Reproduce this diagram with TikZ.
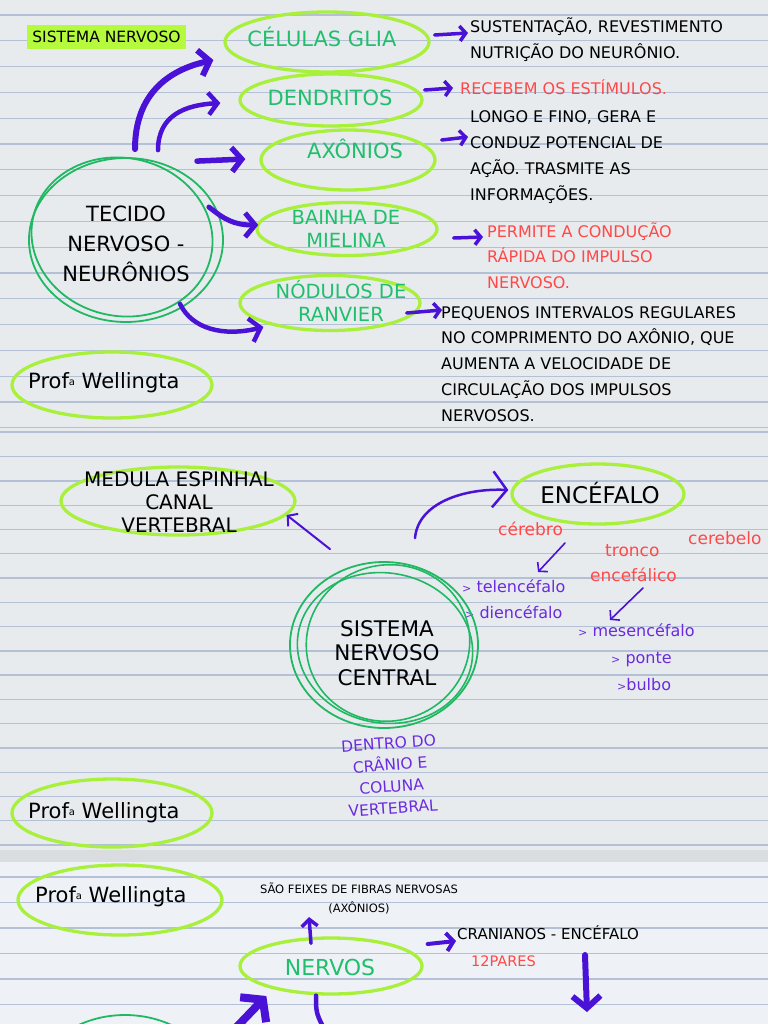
\documentclass[tikz,border=0pt]{standalone}
\usepackage{fontspec}
\setmainfont{DejaVu Sans}
\usetikzlibrary{shapes.geometric,arrows.meta}
\definecolor{limec}{HTML}{A8F03C}
\definecolor{greent}{HTML}{1FBF6C}
\definecolor{greenc}{HTML}{20B863}
\definecolor{purp}{HTML}{4A12D6}
\definecolor{purpt}{HTML}{6A2BE0}
\definecolor{redt}{HTML}{FF4848}
\definecolor{paper}{HTML}{E8EBEE}
\definecolor{paperb}{HTML}{EEF2F6}
\definecolor{band}{HTML}{DADDE0}
\definecolor{rulec}{HTML}{B4C0D5}
\definecolor{hl}{HTML}{B5FA3C}
\newcommand\mylinesl[1]{\begin{tabular}[t]{@{}l@{}}#1\end{tabular}}
\newcommand\mylinesc[1]{\begin{tabular}[t]{@{}c@{}}#1\end{tabular}}
\newcommand\fs[2]{\fontsize{#1}{#2}\selectfont}
\newcommand\profa{Prof\raisebox{3pt}{\fs{10}{10}a}\ Wellingta}
\begin{document}
\begin{tikzpicture}[x=1pt,y=-1pt,
  lel/.style={ellipse, draw=limec, line width=3.3pt, inner sep=0pt},
  gel/.style={ellipse, draw=greenc, line width=1.8pt, inner sep=0pt},
  gt/.style={text=greent, font=\fs{21}{21}, anchor=base, inner sep=0pt},
  gt2/.style={text=greent, font=\fs{19.5}{23}, anchor=base, inner sep=0pt},
  bt/.style={text=black, anchor=base, inner sep=0pt},
  rt/.style={text=black, anchor=base west, inner sep=0pt, font=\fs{16}{25.8}},
  rl/.style={text=redt, anchor=base west, inner sep=0pt, font=\fs{17}{17}},
  pl/.style={text=purpt, anchor=base west, inner sep=0pt, font=\fs{16}{16}},
  prof/.style={text=black, anchor=base west, inner sep=0pt, font=\fs{21}{21}},
  pa/.style={draw=purp, line cap=round, line join=round}
]
\useasboundingbox (0,0) rectangle (768,1024);
\clip (0,0) rectangle (768,1024);
% paper
\fill[paper] (0,0) rectangle (768,850);
\fill[band] (0,850) rectangle (768,862);
\fill[paperb] (0,862) rectangle (768,1024);
\foreach \k in {0,...,16} \draw[rulec, line width=1.3pt] (0,{15+25.8*\k}) -- ++(768,0);
\draw[rulec, line width=1.3pt] (0,432) -- ++(768,0);
\foreach \k in {0,...,16} \draw[rulec, line width=1.3pt] (0,{456.7+24.27*\k}) -- ++(768,0);
\foreach \k in {0,...,5} \draw[rulec, line width=1.3pt] (0,{877+25.5*\k}) -- ++(768,0);

% ---------- top panel ----------
\node[fill=hl, minimum width=159pt, minimum height=24pt, inner sep=0pt, font=\fs{15.5}{15.5}] (sn) at (106.5,37) {SISTEMA NERVOSO};

\node[lel, minimum width=204pt, minimum height=60pt] (glia) at (327,42) {};
\node[lel, minimum width=182pt, minimum height=52pt] (dend) at (331,100) {};
\node[lel, minimum width=174pt, minimum height=60pt] (axo) at (348,160) {};
\node[lel, minimum width=180pt, minimum height=53pt] (bai) at (347,229) {};
\node[lel, minimum width=180pt, minimum height=55pt] (rnv) at (330,303) {};
\node[lel, minimum width=200pt, minimum height=66pt] (prof1e) at (112,385) {};

\node[gt] (gliat) at (322,47) {CÉLULAS GLIA};
\node[gt] (dendt) at (330,106) {DENDRITOS};
\node[gt] (axot) at (355,159) {AXÔNIOS};
\node[gt2] (bait) at (346,225) {\mylinesc{BAINHA DE\\MIELINA}};
\node[gt2] (rnvt) at (341,298) {\mylinesc{NÓDULOS DE\\RANVIER}};

\node[gel, minimum width=194pt, minimum height=164pt] (tec) at (126,240) {};
\draw[greenc, line width=1.8pt, rotate around={-12:(122,237)}] (122,237) ellipse [x radius=91, y radius=79];
\node[bt, font=\fs{21}{29.5}] (tect) at (126,222) {\mylinesc{TECIDO\\NERVOSO -\\NEURÔNIOS}};

\node[rt] (sust) at (470,33) {\mylinesl{SUSTENTAÇÃO, REVESTIMENTO\\NUTRIÇÃO DO NEURÔNIO.}};
\node[rt, text=redt] (rec) at (460,95) {RECEBEM OS ESTÍMULOS.};
\node[rt] (longo) at (470,123) {\mylinesl{LONGO E FINO, GERA E\\CONDUZ POTENCIAL DE\\AÇÃO. TRASMITE AS\\INFORMAÇÕES.}};
\node[rt, text=redt] (perm) at (487,237) {\mylinesl{PERMITE A CONDUÇÃO\\RÁPIDA DO IMPULSO\\NERVOSO.}};
\node[rt] (peq) at (441,318) {\mylinesl{PEQUENOS INTERVALOS REGULARES\\NO COMPRIMENTO DO AXÔNIO, QUE\\AUMENTA A VELOCIDADE DE\\CIRCULAÇÃO DOS IMPULSOS\\NERVOSOS.}};
\node[prof] (prof1) at (28,388) {\profa};

% top arrows
\draw[pa, line width=6pt, -{Straight Barb[length=10pt,width=26pt]}] ([shift={(9,-8)}]tec.north) .. controls +(0,-55) and +(-45,10) .. ([shift={(-10,18)}]glia.west);
\draw[pa, line width=4.5pt, -{Straight Barb[length=9pt,width=22pt]}] ([shift={(32,-7)}]tec.north) .. controls +(0,-35) and +(-35,2) .. ([shift={(-18,3)}]dend.west);
\draw[pa, line width=5.5pt, -{Straight Barb[length=10pt,width=24pt]}] ([shift={(71,4)}]tec.north) -- ([shift={(-14,-1)}]axo.west);
\draw[pa, line width=5pt, -{Straight Barb[length=10pt,width=24pt]}] ([shift={(-15,-33)}]tec.east) .. controls +(15,12) and +(-25,0) .. ([shift={(3,-4)}]bai.west);
\draw[pa, line width=4.5pt, -{Straight Barb[length=10pt,width=24pt]}] ([shift={(54,-19)}]tec.south) .. controls +(12,25) and +(-40,10) .. ([shift={(25,24)}]rnv.west);

\draw[pa, line width=3.5pt, -{Straight Barb[length=6pt,width=15pt]}] ([shift={(4,-7)}]glia.east) -- ([shift={(-2,0)}]sust.base west);
\draw[pa, line width=3.5pt, -{Straight Barb[length=6pt,width=15pt]}] ([shift={(1,-10)}]dend.east) -- ([shift={(-7,-7)}]rec.base west);
\draw[pa, line width=3.5pt, -{Straight Barb[length=6pt,width=15pt]}] ([shift={(5,-20)}]axo.east) -- ([shift={(-2,14)}]longo.base west);
\draw[pa, line width=3.5pt, -{Straight Barb[length=6pt,width=15pt]}] ([shift={(15,9)}]bai.east) -- ([shift={(-4,0)}]perm.base west);
\draw[pa, line width=3.5pt, -{Straight Barb[length=6pt,width=15pt]}] ([shift={(-15,10)}]rnv.east) -- ([shift={(1,-8)}]peq.base west);

% ---------- middle panel ----------
\node[lel, minimum width=234pt, minimum height=68pt] (med) at (178,501) {};
\node[bt, font=\fs{20}{23.2}] (medt) at (179,486) {\mylinesc{MEDULA ESPINHAL\\CANAL\\VERTEBRAL}};
\node[lel, minimum width=172pt, minimum height=60pt] (enc) at (598,494) {};
\node[bt, font=\fs{23}{23}] (enct) at (600,503) {ENCÉFALO};

\node[rl] (cer) at (498,535) {cérebro};
\node[rl] (cbl) at (688,544) {cerebelo};
\node[rl] (tro) at (605,556) {tronco};
\node[rl] (encf) at (590,581) {encefálico};

\node[pl] (tel) at (462,592) {{\fs{11}{11}>} telencéfalo};
\node[pl] (die) at (465,618) {{\fs{11}{11}>} diencéfalo};
\node[pl] (mes) at (578,636) {{\fs{11}{11}>} mesencéfalo};
\node[pl] (pon) at (611,663) {{\fs{11}{11}>} ponte};
\node[pl] (bul) at (617,690) {{\fs{11}{11}>}bulbo};

\node[gel, minimum width=188pt, minimum height=166pt] (snc) at (384,645) {};
\draw[greenc, line width=1.6pt, rotate around={15:(388,643)}] (388,643) ellipse [x radius=82, y radius=78];
\draw[greenc, line width=1.6pt, rotate around={-10:(385,648)}] (385,648) ellipse [x radius=88, y radius=75];
\node[bt, font=\fs{21.5}{24.5}] (snct) at (387,636) {\mylinesc{SISTEMA\\NERVOSO\\CENTRAL}};
\node[bt, text=purpt, font=\fs{15.5}{21.6}, rotate=4] (den) at (389,749) {\mylinesc{DENTRO DO\\CRÂNIO E\\COLUNA\\VERTEBRAL}};

\node[lel, minimum width=200pt, minimum height=68pt] (prof2e) at (112,813) {};
\node[prof] (prof2) at (28,818) {\profa};

\draw[pa, line width=2pt, -{Straight Barb[length=7pt,width=16pt]}] ([shift={(-54,-12)}]snc.north) -- ([shift={(-10,14)}]med.east);
\draw[pa, line width=2.5pt, -{Straight Barb[length=14pt,width=36pt]}] ([shift={(31,-23)}]snc.north) .. controls +(3,-35) and +(-45,-2) .. ([shift={(-2,-4)}]enc.west);
\draw[pa, line width=1.6pt, -{Straight Barb[length=6pt,width=14pt]}] ([shift={(67,8)}]cer.base west) -- ([shift={(76,-20)}]tel.base west);
\draw[pa, line width=1.6pt, -{Straight Barb[length=6pt,width=14pt]}] ([shift={(53,7)}]encf.base west) -- ([shift={(32,-16)}]mes.base west);

% ---------- bottom panel ----------
\node[lel, minimum width=204pt, minimum height=70pt] (prof3e) at (120,900) {};
\node[prof] (prof3) at (35,902) {\profa};
\node[bt, font=\fs{11.5}{19}] (feix) at (359,893) {\mylinesc{SÃO FEIXES DE FIBRAS NERVOSAS\\(AXÔNIOS)}};
\node[lel, minimum width=182pt, minimum height=56pt] (nerv) at (331,966) {};
\node[gt, font=\fs{22}{22}] (nervt) at (330,975) {NERVOS};
\node[rt, font=\fs{15}{15}] (cran) at (457,939) {CRANIANOS - ENCÉFALO};
\node[rt, text=redt, font=\fs{14.5}{14.5}] (pares) at (471,966) {12PARES};
\node[gel, minimum width=194pt, minimum height=164pt] (tec3) at (125,1097) {};
\coordinate (dn) at (587,1012);
\coordinate (bl) at (228,1036);
\coordinate (bd) at (328,1036);

\draw[pa, line width=3.5pt, -{Straight Barb[length=7pt,width=16pt]}] ([shift={(-20,7)}]nerv.north) -- ([shift={(-50,24)}]feix.base);
\draw[pa, line width=4pt, -{Straight Barb[length=7pt,width=18pt]}] ([shift={(4,-22)}]nerv.east) -- ([shift={(-1,2)}]cran.base west);
\draw[pa, line width=6pt, -{Straight Barb[length=12pt,width=28pt]}] ([shift={(128,16)}]cran.base west) -- (dn);
\draw[pa, line width=8pt, -{Straight Barb[length=14pt,width=36pt]}] (bl) -- ([shift={(28,30)}]nerv.west);
\draw[pa, line width=4.5pt] ([shift={(-15,0)}]nerv.south) .. controls +(0,18) .. (bd);
\end{tikzpicture}
\end{document}
